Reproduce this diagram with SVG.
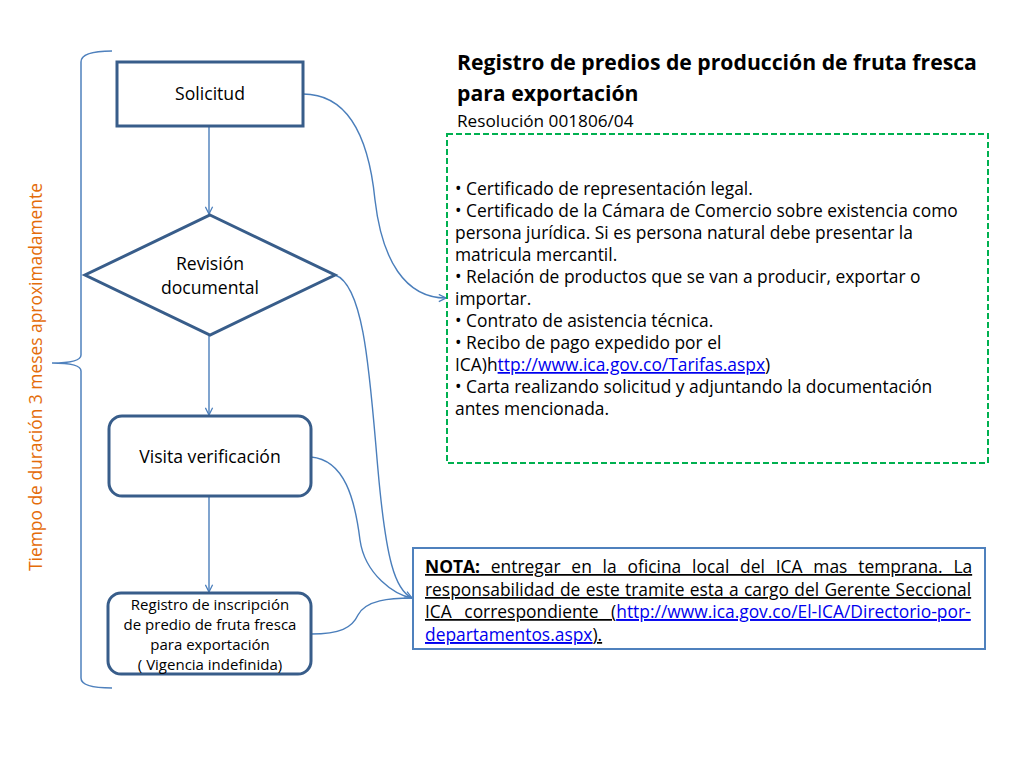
<svg xmlns="http://www.w3.org/2000/svg" width="1024" height="768" viewBox="0 0 1024 768">
<style>
  .t { font-family: "Open Sans", "Liberation Sans", sans-serif; fill: #000; }
  .node { fill: #fff; stroke: #385D8A; stroke-width: 3; }
  .conn { fill: none; stroke: #4A7EBB; stroke-width: 1.4; }
  .lnk { fill: #0000EE; text-decoration: underline; }
  .body { font-size: 17.4px; }
</style>
<defs>
  <marker id="arr" viewBox="0 0 10 10" refX="9" refY="5" markerWidth="9" markerHeight="9" markerUnits="userSpaceOnUse" orient="auto">
    <path d="M1,1 L9,5 L1,9" fill="none" stroke="#4A7EBB" stroke-width="1.4"/>
  </marker>
</defs>
<rect width="1024" height="768" fill="#fff"/>

<g id="brace">
  <path d="M112,51 Q81,51 81,62 L81,355 Q81,363 52,363 Q81,363 81,371 L81,678 Q81,688 112,688" fill="none" stroke="#4F81BD" stroke-width="1.5"/>
  <text class="t" transform="translate(42,377) rotate(-90)" text-anchor="middle" font-size="17.4" style="fill:#E46C0A">Tiempo de duración 3 meses aproximadamente</text>
</g>

<g id="connectors">
  <path class="conn" d="M209,126 L209,214" marker-end="url(#arr)"/>
  <path class="conn" d="M209,335 L209,415" marker-end="url(#arr)"/>
  <path class="conn" d="M209,497 L209,592" marker-end="url(#arr)"/>
  <path class="conn" d="M303,94 C355,94 370,150 375,200 C382,260 405,298 446,298" marker-end="url(#arr)"/>
  <path class="conn" d="M335,275 C365,285 370,380 378,470 C386,560 395,590 412,598" marker-end="url(#arr)"/>
  <path class="conn" d="M311,457 C345,460 355,500 360,540 C365,575 395,595 412,598"/>
  <path class="conn" d="M311,634 C340,634 352,628 358,615 C366,600 390,598 412,598"/>
</g>

<g id="solicitud">
  <rect class="node" x="117" y="62" width="186" height="64"/>
  <text class="t" x="210" y="100" text-anchor="middle" font-size="17.6">Solicitud</text>
</g>

<g id="revision">
  <polygon class="node" points="210,215 335,275 210,335 85,275"/>
  <text class="t" x="210" y="270" text-anchor="middle" font-size="17.6">Revisión</text>
  <text class="t" x="210" y="294" text-anchor="middle" font-size="17.6">documental</text>
</g>

<g id="visita">
  <rect class="node" x="109" y="416" width="202" height="80" rx="13"/>
  <text class="t" x="210" y="463" text-anchor="middle" font-size="17.6">Visita verificación</text>
</g>

<g id="registro">
  <rect class="node" x="108" y="593" width="203" height="81" rx="13"/>
  <text class="t" x="210" y="610" text-anchor="middle" font-size="15">Registro de inscripción</text>
  <text class="t" x="210" y="630" text-anchor="middle" font-size="15">de predio de fruta fresca</text>
  <text class="t" x="210" y="650" text-anchor="middle" font-size="15">para exportación</text>
  <text class="t" x="210" y="670" text-anchor="middle" font-size="15">( Vigencia indefinida)</text>
</g>

<g id="title">
  <text class="t" x="457" y="70" font-size="21.2" font-weight="bold">Registro de predios de producción de fruta fresca</text>
  <text class="t" x="457" y="101" font-size="21.2" font-weight="bold">para exportación</text>
  <text class="t" x="457" y="127" font-size="17.2">Resolución 001806/04</text>
</g>

<g id="requisitos">
  <rect x="447" y="134" width="541" height="329" fill="#fff" stroke="#00B050" stroke-width="2" stroke-dasharray="6,3"/>
  <text class="t body" x="455" y="195">• Certificado de representación legal.</text>
  <text class="t body" x="455" y="217">• Certificado de la Cámara de Comercio sobre existencia como</text>
  <text class="t body" x="455" y="239">persona jurídica. Si es persona natural debe presentar la</text>
  <text class="t body" x="455" y="261">matricula mercantil.</text>
  <text class="t body" x="455" y="283">• Relación de productos que se van a producir, exportar o</text>
  <text class="t body" x="455" y="305">importar.</text>
  <text class="t body" x="455" y="327">• Contrato de asistencia técnica.</text>
  <text class="t body" x="455" y="349">• Recibo de pago expedido por el</text>
  <text class="t body" x="455" y="371">ICA)h<tspan class="lnk">ttp://www.ica.gov.co/Tarifas.aspx</tspan>)</text>
  <text class="t body" x="455" y="393">• Carta realizando solicitud y adjuntando la documentación</text>
  <text class="t body" x="455" y="415">antes mencionada.</text>
</g>

<g id="nota">
  <rect x="413" y="548" width="572" height="101" fill="#fff" stroke="#4F81BD" stroke-width="2"/>
  <text class="t body" x="425" y="573" text-decoration="underline" word-spacing="6.3"><tspan font-weight="bold">NOTA:</tspan> entregar en la oficina local del ICA mas temprana. La</text>
  <text class="t body" x="425" y="596" text-decoration="underline" word-spacing="0.8">responsabilidad de este tramite esta a cargo del Gerente Seccional</text>
  <text class="t body" x="425" y="618" text-decoration="underline" word-spacing="8">ICA correspondiente (<tspan class="lnk">http://www.ica.gov.co/El-ICA/Directorio-por-</tspan></text>
  <text class="t body" x="425" y="641" text-decoration="underline"><tspan class="lnk">departamentos.aspx</tspan>).</text>
</g>
</svg>
